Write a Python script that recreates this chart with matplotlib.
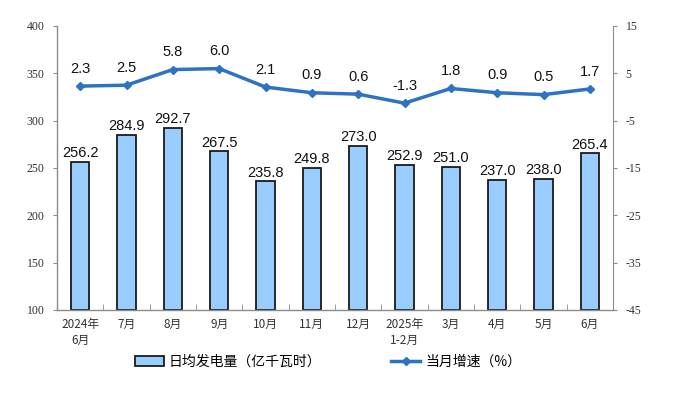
import matplotlib
matplotlib.use("Agg")
import matplotlib.pyplot as plt
from matplotlib.lines import Line2D
from matplotlib.patches import Patch

categories = ["2024年\n6月", "7月", "8月", "9月", "10月", "11月", "12月",
              "2025年\n1-2月", "3月", "4月", "5月", "6月"]
daily_gen = [256.2, 284.9, 292.7, 267.5, 235.8, 249.8, 273.0, 252.9, 251.0, 237.0, 238.0, 265.4]
growth = [2.3, 2.5, 5.8, 6.0, 2.1, 0.9, 0.6, -1.3, 1.8, 0.9, 0.5, 1.7]
left_ticks = [100, 150, 200, 250, 300, 350, 400]
right_ticks = [-45, -35, -25, -15, -5, 5, 15]

bar_color = "#99CCFF"
line_color = "#2E72C2"
axis_color = "#8C8C8C"
cjk = ["Noto Sans CJK SC", "DejaVu Sans"]

fig = plt.figure(figsize=(6.74, 3.94), dpi=100)
ax = fig.add_axes([57/674, 1 - 310/394, (613-57)/674, (310-26)/394])
x = list(range(len(categories)))
ax.bar(x, [v - 100 for v in daily_gen], bottom=100, width=0.39,
       color=bar_color, edgecolor="#1a1a1a", linewidth=1.3, zorder=2)
ax.set_xlim(-0.5, len(categories) - 0.5)
ax.set_ylim(100, 400)
ax.set_yticks(left_ticks)
ax.set_yticklabels([str(t) for t in left_ticks], family="Liberation Serif", fontsize=8.5)
for i, v in enumerate(daily_gen):
    ax.text(i, v + 2, f"{v:.1f}", ha="center", va="bottom",
            family="Liberation Sans", fontsize=10.5, color="#111111")

ax.set_xticks(x)
ax.set_xticklabels(categories, family=cjk, fontsize=8.5, color="#333333", linespacing=1.3)
ax.tick_params(axis="x", length=0, pad=6)
ax.set_xticks([i + 0.5 for i in x[:-1]], minor=True)
ax.tick_params(axis="x", which="minor", direction="in", length=4, color=axis_color)
ax.tick_params(axis="y", direction="out", length=3, color=axis_color, labelcolor="#333333", pad=6)
for s in ["top", "right"]:
    ax.spines[s].set_visible(False)
for s in ["left", "bottom"]:
    ax.spines[s].set_color(axis_color)
    ax.spines[s].set_linewidth(1.0)

ax2 = ax.twinx()
ax2.plot(x, growth, color=line_color, linewidth=2.5, marker="D", markersize=4.5, zorder=3)
ax2.set_ylim(-45, 15)
ax2.set_yticks(right_ticks)
ax2.set_yticklabels([str(t) for t in right_ticks], family="Liberation Serif", fontsize=8.5)
ax2.tick_params(axis="y", direction="out", length=3, color=axis_color, labelcolor="#333333", pad=6)
for s in ["top", "left", "bottom"]:
    ax2.spines[s].set_visible(False)
ax2.spines["right"].set_color(axis_color)
for i, v in enumerate(growth):
    ax2.text(i, v + 2.2, f"{v:.1f}", ha="center", va="bottom",
             family="Liberation Sans", fontsize=10.5, color="#111111")

handles = [Patch(facecolor=bar_color, edgecolor="#1a1a1a", linewidth=1.3),
           Line2D([0], [0], color=line_color, linewidth=2.5, marker="D", markersize=4)]
labels = ["日均发电量（亿千瓦时）", "当月增速（%）"]
fig.legend(handles, labels, loc="center", bbox_to_anchor=(328/674, 1 - 362/394),
           ncol=2, frameon=False, prop={"family": cjk, "size": 10},
           handlelength=2.1, handleheight=0.8, columnspacing=5.0, handletextpad=0.35)

fig.savefig("out.png", dpi=100)
